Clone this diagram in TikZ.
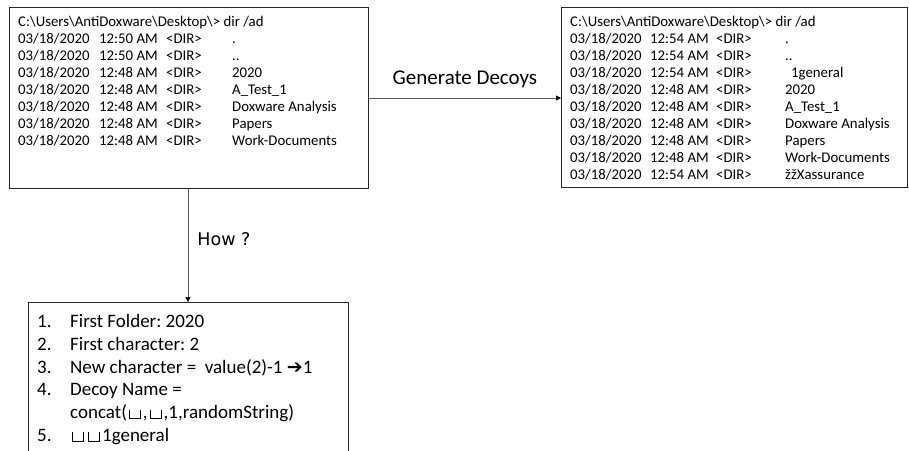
\documentclass[tikz,border=0pt]{standalone}
\usepackage{fontspec}
\setmainfont{Carlito}
\newfontfamily\djv{DejaVu Sans}
\usetikzlibrary{arrows.meta}
\frenchspacing
\newcommand{\spc}{\kern.12em\hbox{\vrule height .48em width .04em\vrule height .04em width .52em\vrule height .48em width .04em}\kern.12em}
\tikzset{
  box/.style={draw=black!85, line width=0.8pt, anchor=north west, inner sep=0pt},
  ln/.style={anchor=base west, inner sep=0pt, font=\frenchspacing\fontsize{14.8}{17}\selectfont},
  itm/.style={anchor=base west, inner sep=0pt, font=\frenchspacing\fontsize{19}{23}\selectfont},
  conn/.style={draw=black!65, line width=0.8pt, -{Triangle[black, length=5pt, width=5pt]}},
  lbl/.style={inner sep=0pt}
}
\begin{document}
\begin{tikzpicture}[x=1pt,y=-1pt]
\clip (0,0) rectangle (909,450);
\fill[white] (0,0) rectangle (909,450);
% boxes
\node[box, minimum width=359pt, minimum height=181pt] (box1) at (9,7) {};
\node[box, minimum width=346pt, minimum height=180pt] (box2) at (561,7) {};
\node[box, minimum width=320pt, minimum height=170pt] (box3) at (28,302) {};
% box 1 text
\node[ln] (t1) at (18,26) {C:\textbackslash Users\textbackslash AntiDoxware\textbackslash Desktop\textbackslash> dir /ad};
\foreach \i/\tm/\nm in {1/12:50 AM/., 2/12:50 AM/.., 3/12:48 AM/2020, 4/12:48 AM/A\_Test\_1, 5/12:48 AM/Doxware Analysis, 6/12:48 AM/Papers, 7/12:48 AM/Work-Documents}{
  \node[ln] (a\i d) at (18,26+17*\i) {03/18/2020};
  \node[ln] (a\i t) at (99,26+17*\i) {\tm};
  \node[ln] (a\i r) at (166,26+17*\i) {<DIR>};
  \node[ln] (a\i n) at (232,26+17*\i) {\nm};
}
% box 2 text
\node[ln] (t2) at (570,26) {C:\textbackslash Users\textbackslash AntiDoxware\textbackslash Desktop\textbackslash> dir /ad};
\foreach \i/\tm/\nm/\nx in {1/12:54 AM/./785, 2/12:54 AM/../785, 3/12:54 AM/1general/791, 4/12:48 AM/2020/785, 5/12:48 AM/A\_Test\_1/785, 6/12:48 AM/Doxware Analysis/785, 7/12:48 AM/Papers/785, 8/12:48 AM/Work-Documents/785, 9/12:54 AM/žžXassurance/785}{
  \node[ln] (b\i d) at (570,26+17*\i) {03/18/2020};
  \node[ln] (b\i t) at (650,26+17*\i) {\tm};
  \node[ln] (b\i r) at (716,26+17*\i) {<DIR>};
  \node[ln] (b\i n) at (\nx,26+17*\i) {\nm};
}
% box 3 text
\node[itm] (n1) at (37,327.5) {1.};
\node[itm] (s1) at (70,327.5) {First Folder: 2020};
\node[itm] (n2) at (37,350.3) {2.};
\node[itm] (s2) at (70,350.3) {First character: 2};
\node[itm] (n3) at (37,373.1) {3.};
\node[itm] (s3) at (70,373.1) {New character =\ \ value(2)-1 {\djv\bfseries ➔}1};
\node[itm] (n4) at (37,395.9) {4.};
\node[itm] (s4) at (70,395.9) {Decoy Name =};
\node[itm] (s4b) at (70,418.7) {concat(\spc,\spc,1,randomString)};
\node[itm] (n5) at (37,441.5) {5.};
\node[itm] (s5) at (70,441.5) {\spc\spc1general};
% connectors
\draw[conn] (box1.east |- 0,98) -- node[lbl, above=10pt, font=\fontsize{21}{25}\selectfont] (g) {Generate Decoys} (box2.west |- 0,98);
\draw[conn] (box1.south -| 188,0) -- node[lbl, right=9pt, yshift=6pt, font=\djv\fontsize{17.5}{21}\selectfont] (h) {How ?} (box3.north -| 188,0);
\end{tikzpicture}
\end{document}
